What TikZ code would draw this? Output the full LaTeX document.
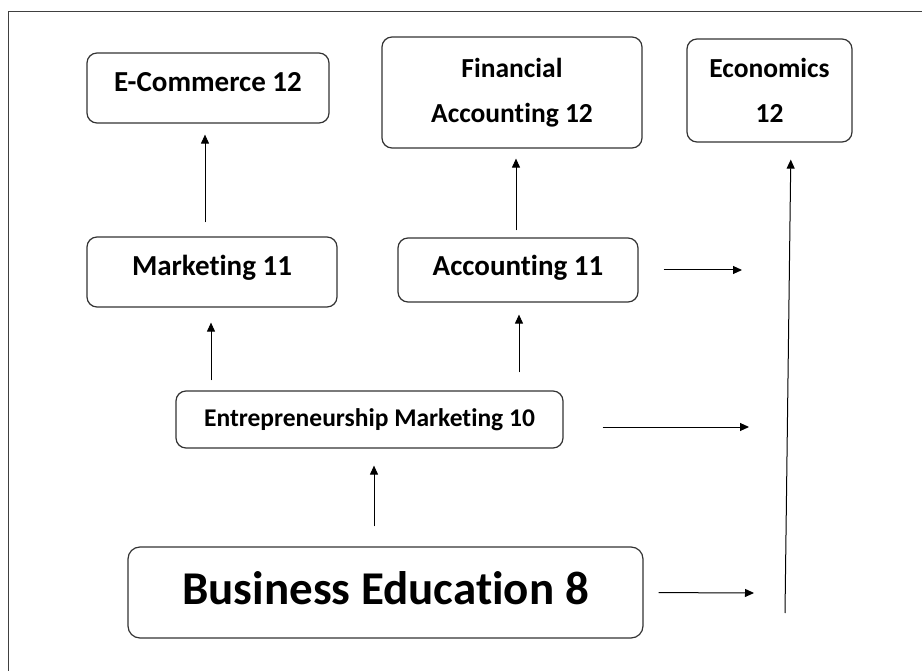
\documentclass[tikz,border=0pt]{standalone}
\usepackage{fontspec}
\setmainfont{Carlito}[Ligatures=NoCommon]
\usetikzlibrary{arrows.meta}
\begin{document}
\begin{tikzpicture}[x=1pt,y=-1pt,
  box/.style={draw=black!80, line width=1.2pt, rounded corners=10pt, inner sep=0pt, align=center, font=\bfseries\fontsize{27.5}{45}\selectfont},
  onebox/.style={box, font=\bfseries\fontsize{29}{45}\selectfont, text height=20pt, text depth=12pt},
  arr/.style={draw=black, line width=1pt, -{Triangle[length=9pt,width=8pt]}}
]
\useasboundingbox (0,0) rectangle (922,671);
\draw[black!75, line width=1pt] (8,671) -- (8,12) -- (922,12);

\node[onebox, minimum width=242pt, minimum height=70pt] (ec) at (208,88) {E-Commerce 12};
\node[box, minimum width=260pt, minimum height=111pt] (fa) at (512,92.5) {Financial\\Accounting 12};
\node[box, minimum width=165pt, minimum height=103pt] (eco) at (769.5,90.5) {Economics\\12};
\node[onebox, minimum width=250pt, minimum height=70pt] (mk) at (212,272) {Marketing 11};
\node[onebox, text depth=8pt, minimum width=240pt, minimum height=64pt] (ac) at (518,270) {Accounting 11};
\node[box, font=\bfseries\fontsize{25.5}{30}\selectfont, text height=18pt, text depth=5pt, minimum width=387pt, minimum height=57pt] (em) at (369.5,419.5) {Entrepreneurship Marketing 10};
\node[box, rounded corners=12pt, font=\bfseries\fontsize{47}{56}\selectfont, text height=33pt, text depth=10pt, minimum width=515pt, minimum height=91pt] (be) at (385.5,592.5) {Business Education 8};

\coordinate (acEnd) at (742,270);
\coordinate (emEnd) at (749,427);
\coordinate (beEnd) at (754,593);
\coordinate (ecoStart) at (785,613);

\draw[arr, shorten <=14pt, shorten >=11pt] ([xshift=-7pt]mk.north) -- ([xshift=-3pt]ec.south);
\draw[arr, shorten <=7pt, shorten >=10pt] ([xshift=-2pt]ac.north) -- ([xshift=4pt]fa.south);
\draw[arr, shorten <=10pt, shorten >=15pt] ([xshift=-158.5pt]em.north) -- ([xshift=-1pt]mk.south);
\draw[arr, shorten <=18pt, shorten >=12pt] ([xshift=149.5pt]em.north) -- ([xshift=1pt]ac.south);
\draw[arr, shorten <=20pt, shorten >=17pt] ([xshift=-11.5pt]be.north) -- ([xshift=4.5pt]em.south);
\draw[arr, shorten <=25pt] (ac.east) -- (acEnd);
\draw[arr, shorten <=39pt] ([yshift=-7.5pt]em.east) -- (emEnd);
\draw[arr, shorten <=15pt] (be.east) -- (beEnd);
\draw[arr, shorten >=17pt] (ecoStart) -- ([xshift=21.5pt]eco.south);
\end{tikzpicture}
\end{document}
